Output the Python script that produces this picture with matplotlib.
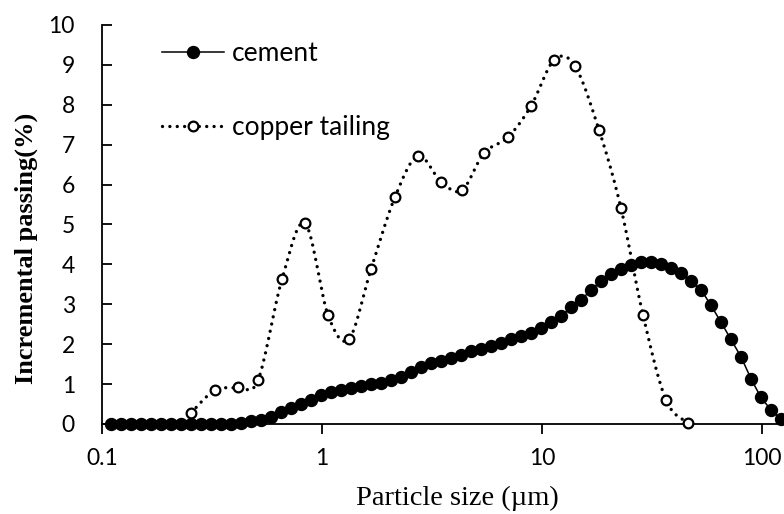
import numpy as np
import matplotlib
matplotlib.use("Agg")
import matplotlib.pyplot as plt
from matplotlib.lines import Line2D

# ---------------- data ----------------
cement_size = [0.110, 0.122, 0.135, 0.150, 0.167, 0.185, 0.206, 0.229, 0.254, 0.282,
               0.313, 0.348, 0.386, 0.428, 0.476, 0.528, 0.586, 0.651, 0.723, 0.803,
               0.891, 0.990, 1.099, 1.220, 1.354, 1.504, 1.670, 1.854, 2.059, 2.286,
               2.538, 2.818, 3.130, 3.475, 3.858, 4.283, 4.756, 5.280, 5.863, 6.510,
               7.228, 8.025, 8.910, 9.900, 10.99, 12.20, 13.54, 15.04, 16.70, 18.54,
               20.59, 22.86, 25.38, 28.18, 31.30, 34.75, 38.58, 42.83, 47.56, 52.80,
               58.63, 65.10, 72.28, 80.25, 89.10, 99.00, 109.9, 122.0]
cement_pass = [0.00, 0.00, 0.00, 0.00, 0.00, 0.00, 0.00, 0.00, 0.00, 0.00,
               0.00, 0.00, 0.00, 0.03, 0.08, 0.10, 0.17, 0.30, 0.40, 0.50,
               0.60, 0.72, 0.79, 0.85, 0.90, 0.96, 1.00, 1.04, 1.10, 1.18,
               1.30, 1.42, 1.52, 1.59, 1.66, 1.74, 1.82, 1.89, 1.96, 2.04,
               2.13, 2.21, 2.28, 2.41, 2.56, 2.71, 2.92, 3.11, 3.36, 3.58,
               3.77, 3.89, 3.98, 4.06, 4.07, 4.02, 3.92, 3.79, 3.58, 3.35,
               2.97, 2.55, 2.12, 1.68, 1.14, 0.68, 0.36, 0.13]

copper_size = [0.254, 0.326, 0.415, 0.512, 0.658, 0.837, 1.065, 1.326, 1.670, 2.147,
               2.732, 3.475, 4.329, 5.450, 7.008, 8.913, 11.34, 14.13, 18.16, 22.86,
               28.78, 36.61, 46.09]
copper_pass = [0.28, 0.85, 0.92, 1.10, 3.63, 5.03, 2.73, 2.13, 3.88, 5.69,
               6.72, 6.07, 5.86, 6.79, 7.19, 7.97, 9.12, 8.97, 7.37, 5.41,
               2.73, 0.60, 0.03]

x_ticks = [0.1, 1, 10, 100]
x_tick_labels = ["0.1", "1", "10", "100"]
y_ticks = list(range(0, 11))

# ---------------- helpers ----------------
def smooth(xs, ys, n=16):
    """Excel-like smoothed line (Catmull-Rom in log10(x), y space)."""
    lx = np.log10(np.asarray(xs, float))
    y = np.asarray(ys, float)
    px = np.concatenate([[lx[0]], lx, [lx[-1]]])
    py = np.concatenate([[y[0]], y, [y[-1]]])
    outx, outy = [], []
    t = np.linspace(0, 1, n, endpoint=False)
    for i in range(1, len(px) - 2):
        p0x, p1x, p2x, p3x = px[i - 1], px[i], px[i + 1], px[i + 2]
        p0y, p1y, p2y, p3y = py[i - 1], py[i], py[i + 1], py[i + 2]
        c1x, c1y = p1x + (p2x - p0x) / 6, p1y + (p2y - p0y) / 6
        c2x, c2y = p2x - (p3x - p1x) / 6, p2y - (p3y - p1y) / 6
        bx = ((1 - t) ** 3) * p1x + 3 * ((1 - t) ** 2) * t * c1x + 3 * (1 - t) * t ** 2 * c2x + t ** 3 * p2x
        by = ((1 - t) ** 3) * p1y + 3 * ((1 - t) ** 2) * t * c1y + 3 * (1 - t) * t ** 2 * c2y + t ** 3 * p2y
        outx.extend(bx)
        outy.extend(by)
    outx.append(lx[-1])
    outy.append(y[-1])
    return 10 ** np.array(outx), np.array(outy)

# ---------------- figure ----------------
W, H = 784, 514
fig = plt.figure(figsize=(W / 100, H / 100), dpi=100)
ax_left, ax_right, ax_bottom, ax_top = 102, 784, 424, 25
ax = fig.add_axes([ax_left / W, (H - ax_bottom) / H, (ax_right - ax_left) / W, (ax_bottom - ax_top) / H])

ax.set_xscale("log")
ax.set_xlim(0.1, 0.1 * 10 ** ((ax_right - ax_left) / 220.0))
ax.set_ylim(0, 10)

DOT = (0, (0.01, 2.2))

# cement: solid line with filled markers
cx, cy = smooth(cement_size, cement_pass)
ax.plot(cx, cy, color="black", lw=1.1, zorder=3, clip_on=False)
ax.plot(cement_size, cement_pass, linestyle="none", marker="o", ms=8.6,
        color="black", zorder=3, clip_on=False)

# copper tailing: dotted smoothed line with open markers
tx, ty = smooth(copper_size, copper_pass)
ax.plot(tx, ty, color="black", lw=2.4, linestyle=DOT,
        dash_capstyle="round", zorder=4, clip_on=False)
ax.plot(copper_size, copper_pass, linestyle="none", marker="o", ms=7.0,
        mfc="white", mec="black", mew=1.6, zorder=5, clip_on=False)

# legend
h1 = Line2D([], [], color="black", lw=1.1, marker="o", ms=8.6)
h2 = Line2D([], [], color="black", lw=2.4, linestyle=DOT,
            dash_capstyle="round", marker="o", ms=7.0, mfc="white", mec="black", mew=1.6)
leg = ax.legend([h1, h2], ["cement", "copper tailing"], loc="upper left",
                bbox_to_anchor=(162 / W, (H - 41) / H), bbox_transform=fig.transFigure,
                frameon=False, borderpad=0, borderaxespad=0, handlelength=2.35,
                handletextpad=0.3, labelspacing=1.85,
                prop={"family": "Lato", "size": 19})

# axes styling
for s in ("top", "right"):
    ax.spines[s].set_visible(False)
for s in ("left", "bottom"):
    ax.spines[s].set_color("black")
    ax.spines[s].set_linewidth(1.3)

ax.set_xticks(x_ticks)
ax.set_xticklabels(x_tick_labels)
ax.xaxis.set_minor_locator(matplotlib.ticker.NullLocator())
ax.set_yticks(y_ticks)
ax.tick_params(axis="x", direction="out", length=7.5, width=1.3, pad=10,
               labelsize=16.5)
ax.tick_params(axis="y", direction="in", length=7, width=1.3, pad=19.5,
               labelsize=16.5)
for lab in ax.get_xticklabels() + ax.get_yticklabels():
    lab.set_family("Lato")

ax.set_xlabel("Particle size (\u00b5m)", family="Liberation Serif", fontsize=20.5)
ax.xaxis.set_label_coords((457 - ax_left) / (ax_right - ax_left), -(505 - ax_bottom) / (ax_bottom - ax_top))
ax.xaxis.label.set_va("baseline")
ax.set_ylabel("Incremental passing(%)", family="Liberation Serif", fontweight="bold",
              fontsize=19)
ax.yaxis.label.set_va("center")
ax.yaxis.set_label_coords(-(102 - 26) / (ax_right - ax_left), (ax_bottom - 248) / (ax_bottom - ax_top))

fig.savefig("out.png", dpi=100)
